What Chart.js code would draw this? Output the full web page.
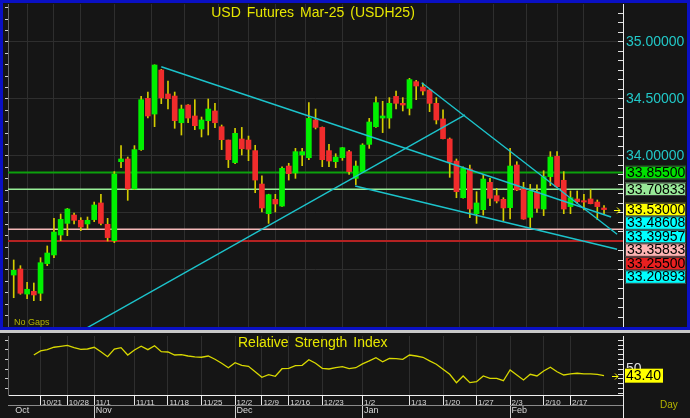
<!DOCTYPE html>
<html><head><meta charset="utf-8">
<script src="https://cdn.jsdelivr.net/npm/chart.js@4.4.1/dist/chart.umd.min.js"></script>
<style>
html,body{margin:0;padding:0;background:#c8c8c8;width:690px;height:418px;overflow:hidden;}
#main{position:absolute;left:0;top:0;width:690px;height:330px;box-sizing:border-box;border:3px solid #0a10c4;background:#151515;}
#main canvas,#rsi canvas{display:block;}
#rsi{position:absolute;left:0;top:333px;width:690px;height:85px;background:#151515;}
</style></head><body>
<div id="main"><canvas id="c1" width="684" height="324"></canvas></div>
<div id="rsi"><canvas id="c2" width="690" height="85"></canvas></div>
<script>
// ---------- data ----------
const TITLE = 'USD Futures Mar-25 (USDH25)';
const OPEN  = [32.956,33.009,32.789,32.813,32.796,33.056,33.132,33.307,33.409,33.482,33.436,33.404,33.442,33.588,33.401,33.257,33.950,33.974,33.711,34.056,34.506,34.368,34.754,34.544,34.526,34.292,34.447,34.351,34.237,34.310,34.395,34.257,34.140,33.942,34.149,34.140,34.047,33.754,33.494,33.620,33.561,33.912,33.851,34.009,33.985,34.316,34.251,34.047,33.950,33.985,34.038,33.804,33.863,34.102,34.257,34.333,34.333,34.523,34.462,34.418,34.652,34.605,34.579,34.462,34.325,34.149,33.956,33.634,33.886,33.494,33.529,33.769,33.652,33.620,33.547,33.921,33.708,33.462,33.687,33.535,33.819,33.997,33.787,33.556,33.623,33.608,33.623,33.596,33.544];
const HIGH  = [33.088,33.038,32.892,32.886,33.108,33.211,33.453,33.491,33.540,33.500,33.459,33.465,33.596,33.664,33.453,33.863,34.091,33.991,34.091,34.523,34.561,34.800,34.760,34.658,34.561,34.447,34.450,34.494,34.342,34.500,34.462,34.272,34.140,34.243,34.251,34.175,34.094,33.825,33.665,33.664,33.904,33.936,34.067,34.067,34.468,34.412,34.255,34.102,34.020,34.075,34.050,33.956,34.108,34.330,34.520,34.480,34.512,34.570,34.512,34.681,34.664,34.640,34.585,34.512,34.404,34.158,33.974,33.904,33.921,33.687,33.839,33.804,33.716,33.634,34.067,33.950,33.769,33.751,33.746,33.871,34.038,34.038,33.863,33.693,33.693,33.664,33.705,33.614,33.564];
const LOW   = [32.757,32.787,32.748,32.731,32.731,33.038,33.108,33.257,33.301,33.404,33.345,33.360,33.424,33.395,33.254,33.240,33.898,33.611,33.705,34.050,34.333,34.257,34.459,34.412,34.243,34.184,34.292,34.231,34.167,34.184,34.249,34.056,33.898,33.933,34.009,33.959,33.678,33.509,33.409,33.509,33.558,33.789,33.804,33.915,33.968,34.237,33.906,33.906,33.898,33.962,33.839,33.749,33.857,34.067,34.251,34.205,34.243,34.412,34.395,34.360,34.494,34.535,34.389,34.281,34.150,33.813,33.634,33.630,33.459,33.409,33.482,33.564,33.588,33.433,33.447,33.696,33.445,33.365,33.506,33.477,33.740,33.725,33.494,33.494,33.585,33.526,33.580,33.442,33.494];
const CLOSE = [32.997,32.796,32.831,32.781,33.064,33.149,33.333,33.444,33.535,33.436,33.377,33.436,33.570,33.409,33.284,33.842,33.974,33.711,34.056,34.494,34.351,34.798,34.509,34.503,34.310,34.412,34.333,34.266,34.316,34.412,34.292,34.143,33.968,34.199,34.064,34.059,33.789,33.544,33.661,33.579,33.892,33.845,34.038,34.038,34.330,34.251,33.968,33.956,33.991,34.073,33.863,33.912,34.096,34.298,34.468,34.351,34.462,34.462,34.447,34.670,34.614,34.570,34.462,34.316,34.152,33.945,33.687,33.892,33.535,33.588,33.798,33.629,33.605,33.544,33.912,33.702,33.447,33.693,33.541,33.819,33.991,33.731,33.535,33.634,33.599,33.596,33.582,33.556,33.530];
const RSI   = [null,null,null,64.7,68.9,70.2,72.7,73.7,74.7,72.3,70.6,70.9,72.7,68.1,63.0,70.9,72.3,64.7,69.9,73.7,70.2,74.3,68.1,67.8,64.7,65.1,63.7,62.7,62.4,63.7,60.3,56.2,51.6,56.8,54.1,53.1,47.5,41.8,44.4,42.8,50.6,51.0,53.7,54.1,59.9,56.2,51.0,50.3,51.6,52.7,50.6,51.6,55.5,58.6,62.0,57.8,61.3,60.9,60.3,64.7,63.7,62.4,58.6,55.2,50.0,44.8,36.2,43.1,36.2,37.2,43.1,40.7,40.7,38.2,49.3,44.1,39.0,44.8,43.1,48.2,52.1,47.5,44.1,45.2,45.9,45.2,45.2,44.8,43.4];
const DATE_IDX    = [4,8,12,18,23,28,33,37,41,46,52,59,64,69,74,79,83];
const DATE_LABELS = ['10/21','10/28','11/1','11/11','11/18','11/25','12/2','12/9','12/16','12/23','1/2','1/13','1/20','1/27','2/3','2/10','2/17'];
const MONTH_IDX    = [0,12,33,52,74];
const MONTH_LABELS = ['Oct','Nov','Dec','Jan','Feb'];
const LEVELS       = [33.855, 33.70833, 33.35833, 33.255];
const LEVEL_COLORS = ['#0ca00c','#98ee98','#f4b8b8','#b42222'];
const TRENDS = [
  [{x:22.0, y:34.783},{x:89.05, y:33.465}],
  [{x:60.82,y:34.643},{x:89.95, y:33.313}],
  [{x:10.97,y:32.494},{x:67.28, y:34.360}],
  [{x:50.9, y:33.737},{x:89.95, y:33.182}]
];
const RIGHT_LABELS = [33.855,33.70833,33.53,33.48608,33.39957,33.35833,33.255,33.20893];
const RIGHT_COLORS = ['#00e000','#98e898','#ffff00','#00ffff','#00ffff','#ffb4b4','#e82020','#00ffff'];
const PRICE_LABELS = [35.0, 34.5, 34.0];
const RSI_LABEL = 43.40;

// ---------- view ----------
const FONT = '"Liberation Sans", Arial, sans-serif';
const XMIN = -0.85, XMAX = 90.83;
const YMIN = 32.5, YMAX = 35.3333;
const RMIN = 23.5, RMAX = 84.3;
const GREEN = '#00f000', RED = '#f02c2c', WICK = '#d4cc00';
const idx = OPEN.map((_, i) => i);
const isUp = i => CLOSE[i] >= OPEN[i];
const noPad = s => { s.paddingTop = 0; s.paddingBottom = 0; s.paddingLeft = 0; s.paddingRight = 0; };

function arrow(ctx, x, y) {
  ctx.strokeStyle = '#ffff00'; ctx.lineWidth = 1;
  const yy = Math.round(y) + 0.5;
  ctx.beginPath();
  ctx.moveTo(x - 6, yy); ctx.lineTo(x, yy);
  ctx.moveTo(x - 3, yy - 3); ctx.lineTo(x, yy); ctx.lineTo(x - 3, yy + 3);
  ctx.stroke();
}

const mainDecor = {
  id: 'mainDecor',
  afterDraw(chart) {
    const { ctx, chartArea: a } = chart;
    const y = chart.scales.y, yR = chart.scales.yR;
    ctx.save();
    ctx.font = '14px ' + FONT;
    try { ctx.wordSpacing = '2px'; } catch (e) {}
    ctx.fillStyle = '#e6e600'; ctx.textAlign = 'center'; ctx.textBaseline = 'middle';
    ctx.fillText(TITLE, 310, 10);
    try { ctx.wordSpacing = '0px'; } catch (e) {}
    ctx.font = '9px ' + FONT; ctx.textAlign = 'left'; ctx.fillStyle = '#b4b400';
    ctx.fillText('No Gaps', 11, a.bottom - 4);
    const H = 13.5;
    let prev = -1e9;
    ctx.font = '14px ' + FONT;
    RIGHT_LABELS.forEach((v, k) => {
      const cy = Math.max(y.getPixelForValue(v), prev + H);
      prev = cy;
      const bx = yR.left + 2, by = cy - H / 2;
      ctx.fillStyle = RIGHT_COLORS[k];
      ctx.fillRect(bx, by, 61, H);
      ctx.strokeStyle = '#3a3a3a'; ctx.lineWidth = 1;
      ctx.strokeRect(bx + 0.5, by + 0.5, 60, H - 1);
      ctx.fillStyle = '#000'; ctx.textBaseline = 'middle';
      ctx.fillText(v.toFixed(5), bx + 2, cy + 0.5);
    });
    arrow(ctx, a.right - 3, y.getPixelForValue(CLOSE[CLOSE.length - 1]));
    ctx.restore();
  }
};

const levelSets = LEVELS.map((v, k) => ({
  type: 'line', data: [{x: XMIN, y: v}, {x: XMAX, y: v}], borderColor: LEVEL_COLORS[k],
  borderWidth: (k === 0 || k === 3) ? 2 : 1.5, pointRadius: 0, order: 3
}));
const trendSets = TRENDS.map(t => ({
  type: 'line', data: t, borderColor: '#1cc4cc', borderWidth: 1.4, pointRadius: 0, order: 0
}));

new Chart(document.getElementById('c1'), {
  type: 'bar',
  data: { datasets: [
    ...levelSets,
    { type: 'bar', data: idx.map(i => ({x: i, y: [LOW[i], HIGH[i]]})), backgroundColor: WICK,
      barThickness: 1, grouped: false, order: 2 },
    { type: 'bar', data: idx.map(i => ({x: i, y: [OPEN[i], CLOSE[i]]})),
      backgroundColor: idx.map(i => isUp(i) ? GREEN : RED), barThickness: 5, grouped: false,
      minBarLength: 1, order: 1 },
    ...trendSets
  ]},
  options: {
    responsive: false, animation: false, devicePixelRatio: 1,
    layout: { padding: { top: 1, bottom: 0, left: 0, right: 0 } },
    plugins: { legend: { display: false }, tooltip: { enabled: false } },
    scales: {
      x: { type: 'linear', min: XMIN, max: XMAX, offset: false,
        afterBuildTicks: s => { s.ticks = DATE_IDX.map(v => ({value: v})); },
        ticks: { display: false, autoSkip: false }, grid: { color: '#2e2e2e', drawTicks: false }, border: { display: false },
        afterFit: s => { s.height = 0; noPad(s); } },
      y: { type: 'linear', position: 'left', min: YMIN, max: YMAX,
        afterBuildTicks: s => { const t = []; for (let k = Math.ceil(YMIN * 10); k <= Math.floor(YMAX * 10); k++) t.push({value: k / 10}); s.ticks = t; },
        ticks: { display: false, autoSkip: false }, grid: { drawOnChartArea: false, tickLength: 3, tickColor: '#cfcfcf' },
        border: { color: '#6a6a6a' }, afterFit: s => { s.width = 5; noPad(s); } },
      yR: { type: 'linear', position: 'right', min: YMIN, max: YMAX,
        afterBuildTicks: s => { const t = []; for (let k = Math.ceil(YMIN * 12); k <= Math.floor(YMAX * 12); k++) t.push({value: k / 12}); s.ticks = t; },
        ticks: { padding: 8, autoSkip: false, color: '#22c8c8', font: { size: 14, family: FONT },
          callback: v => PRICE_LABELS.some(p => Math.abs(p - v) < 1e-6) ? v.toFixed(5) : '' },
        grid: { color: c => (c.tick && Math.abs(c.tick.value * 2 - Math.round(c.tick.value * 2)) < 1e-6) ? '#2e2e2e' : 'rgba(0,0,0,0)',
          tickColor: '#e0e0e0', tickLength: -5 },
        border: { color: '#ececec' }, afterFit: s => { s.width = 64; noPad(s); } }
    }
  },
  plugins: [mainDecor]
});

const rsiDecor = {
  id: 'rsiDecor',
  afterDraw(chart) {
    const { ctx, chartArea: a } = chart;
    const y = chart.scales.y, yR = chart.scales.yR;
    ctx.save();
    ctx.font = '14px ' + FONT;
    try { ctx.wordSpacing = '2px'; } catch (e) {}
    ctx.fillStyle = '#e6e600'; ctx.textAlign = 'left'; ctx.textBaseline = 'middle';
    ctx.fillText('Relative Strength Index', 238, 10);
    try { ctx.wordSpacing = '0px'; } catch (e) {}
    ctx.strokeStyle = '#ececec'; ctx.lineWidth = 1;
    ctx.beginPath(); ctx.moveTo(Math.round(yR.left) + 0.5, a.bottom); ctx.lineTo(Math.round(yR.left) + 0.5, 85); ctx.stroke();
    const cy = y.getPixelForValue(RSI[RSI.length - 1]);
    ctx.fillStyle = '#ffff00';
    ctx.fillRect(yR.left + 2, cy - 7, 38, 14);
    ctx.fillStyle = '#000'; ctx.font = '14px ' + FONT;
    ctx.fillText(RSI_LABEL.toFixed(2), yR.left + 3, cy + 0.5);
    arrow(ctx, a.right - 5, cy);
    ctx.font = '10px ' + FONT; ctx.fillStyle = '#b4b400';
    ctx.fillText('Day', 660, 72.5);
    ctx.restore();
  }
};

new Chart(document.getElementById('c2'), {
  type: 'line',
  data: { datasets: [{ data: idx.map(i => ({x: i, y: RSI[i]})), borderColor: '#d8d800', borderWidth: 1.3,
    pointRadius: 0, spanGaps: false, tension: 0 }] },
  options: {
    responsive: false, animation: false, devicePixelRatio: 1,
    layout: { padding: { top: 3, bottom: 0, left: 0, right: 0 } },
    plugins: { legend: { display: false }, tooltip: { enabled: false } },
    scales: {
      x: { type: 'linear', position: 'bottom', weight: 0, min: XMIN, max: XMAX, offset: false,
        afterBuildTicks: s => { s.ticks = DATE_IDX.map(v => ({value: v})); },
        ticks: { callback: v => { const k = DATE_IDX.indexOf(v); return k >= 0 ? DATE_LABELS[k] : ''; },
          align: 'start', labelOffset: 1.5, padding: -7.5, autoSkip: false, maxRotation: 0,
          color: '#d8d8d8', font: { size: 8, family: FONT } },
        grid: { color: '#2e2e2e', tickColor: '#e8e8e8', tickLength: 10 },
        border: { color: '#f0f0f0' }, afterFit: s => { s.height = 10; noPad(s); } },
      x2: { type: 'linear', position: 'bottom', weight: 1, min: XMIN, max: XMAX, offset: false,
        afterBuildTicks: s => { s.ticks = MONTH_IDX.map(v => ({value: v})); },
        ticks: { callback: v => { const k = MONTH_IDX.indexOf(v); return k >= 0 ? MONTH_LABELS[k] : ''; },
          align: 'start', labelOffset: 1.5, padding: -13, autoSkip: false, maxRotation: 0,
          color: '#d8d8d8', font: { size: 9, family: FONT } },
        grid: { drawOnChartArea: false, tickLength: 13, tickColor: c => c.index === 0 ? 'rgba(0,0,0,0)' : '#d0d0d0' },
        border: { color: '#8a8a8a' }, afterFit: s => { s.height = 13; noPad(s); } },
      y: { type: 'linear', position: 'left', min: RMIN, max: RMAX,
        afterBuildTicks: s => { const t = []; for (let v = 30; v <= 80; v += 10) t.push({value: v}); s.ticks = t; },
        ticks: { display: false, autoSkip: false }, grid: { drawOnChartArea: false, tickLength: 3, tickColor: '#cfcfcf' },
        border: { color: '#6a6a6a' }, afterFit: s => { s.width = 8; noPad(s); } },
      yR: { type: 'linear', position: 'right', min: RMIN, max: RMAX,
        afterBuildTicks: s => { const t = []; for (let v = 25; v <= 80; v += 5) t.push({value: v}); s.ticks = t; },
        ticks: { padding: 8, autoSkip: false, color: '#e0e0e0', font: { size: 14, family: FONT },
          callback: v => v === 50 ? '50' : '' },
        grid: { drawOnChartArea: false, tickLength: -5, tickColor: '#e0e0e0' },
        border: { color: '#ececec' }, afterFit: s => { s.width = 67; noPad(s); } }
    }
  },
  plugins: [rsiDecor]
});
</script></body></html>
